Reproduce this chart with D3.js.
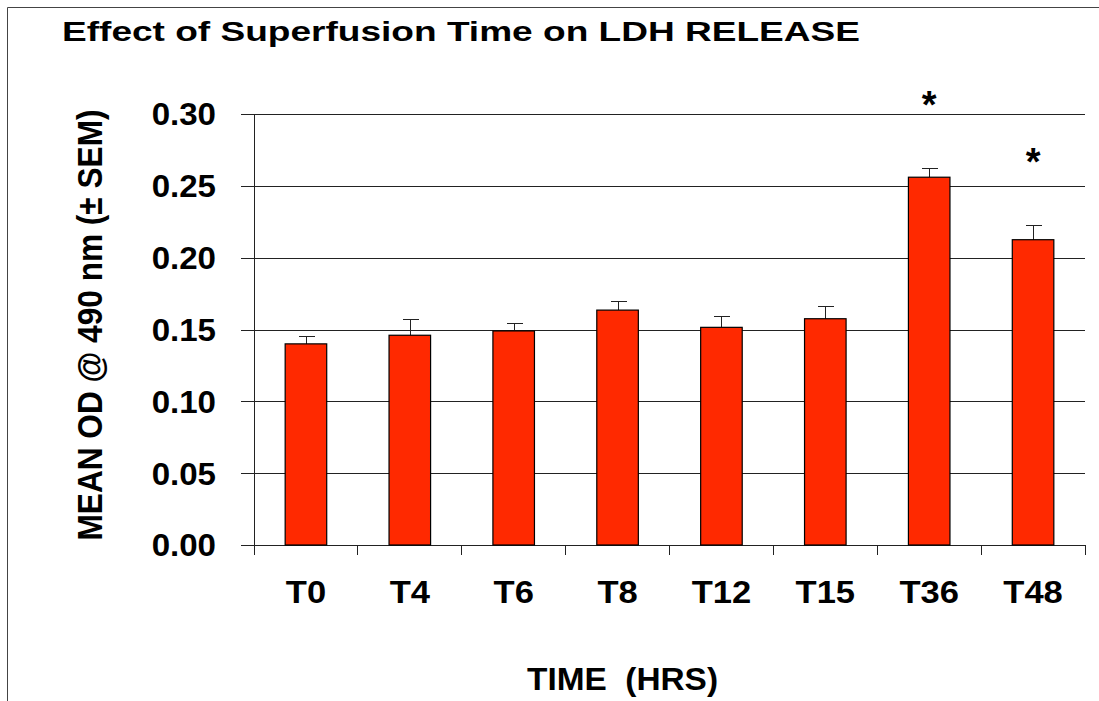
<!DOCTYPE html>
<html>
<head>
<meta charset="utf-8">
<script src="https://cdn.jsdelivr.net/npm/d3@7"></script>
<style>
  body { margin: 0; background: #fff; }
  text { font-family: "Liberation Sans", Arial, sans-serif; font-weight: bold; fill: #000; }
</style>
</head>
<body>
<svg class="chart"></svg>
<script>
const times = ['T0', 'T4', 'T6', 'T8', 'T12', 'T15', 'T36', 'T48'];
const means = [0.140, 0.146, 0.149, 0.1635, 0.1515, 0.1575, 0.256, 0.2125];
const sems = [0.005, 0.011, 0.005, 0.006, 0.0075, 0.0087, 0.006, 0.0097];
const starred = ['T36', 'T48'];
const yTicks = [0, 0.05, 0.10, 0.15, 0.20, 0.25, 0.30];

const [width, height] = [1099, 701];
const margin = { top: 114, right: 14, bottom: 156, left: 254 };
const plotW = width - margin.left - margin.right;
const plotH = height - margin.top - margin.bottom;

const svg = d3.select('.chart').attr('width', width).attr('height', height);

// frame (top + left only)
svg.append('path')
  .attr('d', `M7.5,${height} V7.5 H${width}`)
  .attr('fill', 'none')
  .attr('stroke', '#444');

svg.append('text')
  .attr('x', 62).attr('y', 41)
  .attr('font-size', 27)
  .attr('textLength', 798)
  .attr('lengthAdjust', 'spacingAndGlyphs')
  .text('Effect of Superfusion Time on LDH RELEASE');

const g = svg.append('g').attr('transform', `translate(${margin.left},${margin.top})`);

const x = d3.scaleBand().domain(times).range([0, plotW]).paddingInner(0.6).paddingOuter(0.3);
const y = d3.scaleLinear().domain([0, 0.3]).range([plotH, 0]);

// grid + left ticks
g.append('g')
  .attr('class', 'grid')
  .attr('transform', `translate(${plotW},0)`)
  .call(d3.axisLeft(y).tickValues(yTicks).tickSize(plotW + 13).tickFormat(''))
  .call(s => s.select('.domain').remove())
  .call(s => s.selectAll('line').attr('stroke', '#222').attr('shape-rendering', 'crispEdges'));

// y axis + labels
g.append('g')
  .call(d3.axisLeft(y).tickValues(yTicks).tickSize(0).tickFormat(''))
  .call(s => s.select('.domain').attr('stroke', '#222').attr('shape-rendering', 'crispEdges'));

g.append('g')
  .selectAll('text')
  .data(yTicks)
  .join('text')
  .attr('transform', d => `translate(-38,${y(d)}) scale(1.05,1)`)
  .attr('dy', '0.36em')
  .attr('text-anchor', 'end')
  .attr('font-size', 31.5)
  .text(d3.format('.2f'));

// x axis boundary ticks
const bounds = d3.range(times.length + 1).map(i => i * plotW / times.length);
g.append('g')
  .selectAll('line')
  .data(bounds)
  .join('line')
  .attr('x1', d => d).attr('x2', d => d)
  .attr('y1', plotH).attr('y2', plotH + 10)
  .attr('stroke', '#222')
  .attr('shape-rendering', 'crispEdges');

// x labels
g.append('g')
  .selectAll('text')
  .data(times)
  .join('text')
  .attr('transform', d => `translate(${x(d) + x.bandwidth() / 2},${plotH + 58}) scale(1.08,1)`)
  .attr('text-anchor', 'middle')
  .attr('font-size', 32)
  .text(d => d);

// error bars
const err = g.append('g').attr('stroke', '#222').attr('shape-rendering', 'crispEdges');
times.forEach((t, i) => {
  const cx = Math.round(x(t) + x.bandwidth() / 2) + 0.5;
  err.append('line').attr('x1', cx).attr('x2', cx).attr('y1', y(means[i])).attr('y2', y(means[i] + sems[i]));
  err.append('line').attr('x1', cx - 8).attr('x2', cx + 8).attr('y1', y(means[i] + sems[i])).attr('y2', y(means[i] + sems[i]));
});

// bars
g.append('g')
  .selectAll('rect')
  .data(times)
  .join('rect')
  .attr('x', d => x(d))
  .attr('y', (d, i) => y(means[i]))
  .attr('width', x.bandwidth())
  .attr('height', (d, i) => plotH - y(means[i]))
  .attr('fill', '#ff2900')
  .attr('stroke', '#000')
  .attr('stroke-width', 1.2);

// significance stars
g.append('g')
  .selectAll('text')
  .data(starred)
  .join('text')
  .attr('x', d => x(d) + x.bandwidth() / 2)
  .attr('y', d => { const i = times.indexOf(d); return y(means[i] + sems[i]) - 51; })
  .attr('text-anchor', 'middle')
  .attr('font-size', 38)
  .attr('font-weight', 'normal')
  .text('*');

// axis titles
svg.append('text')
  .attr('transform', `translate(102,325) rotate(-90)`)
  .attr('text-anchor', 'middle')
  .attr('font-size', 35)
  .attr('textLength', 431)
  .attr('lengthAdjust', 'spacingAndGlyphs')
  .text('MEAN OD @ 490 nm (± SEM)');

svg.append('text')
  .attr('x', 527).attr('y', 690)
  .attr('font-size', 31)
  .attr('textLength', 191)
  .attr('lengthAdjust', 'spacingAndGlyphs')
  .attr('xml:space', 'preserve')
  .style('white-space', 'pre')
  .text('TIME  (HRS)');
</script>
</body>
</html>
